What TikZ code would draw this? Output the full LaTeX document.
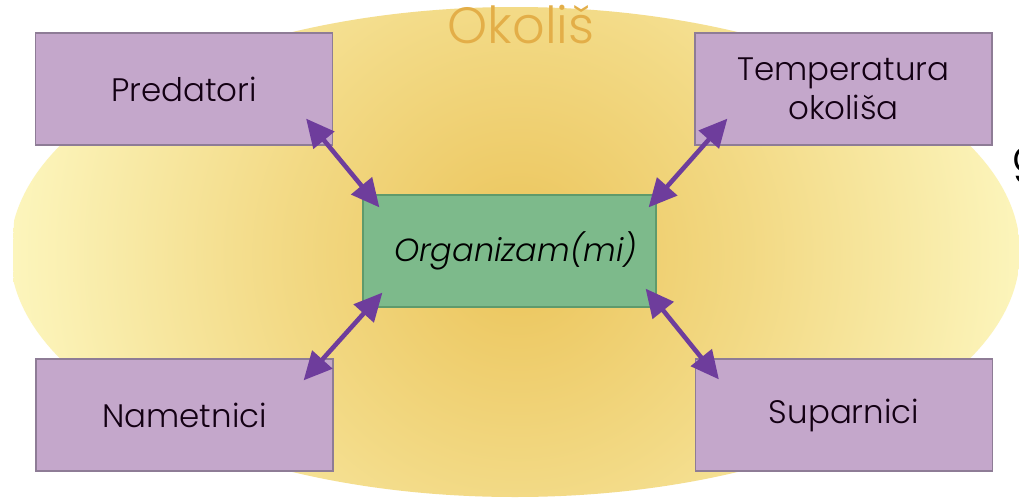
\documentclass[tikz,border=0pt]{standalone}
\usepackage{fontspec}
\setmainfont{Poppins}[UprightFont=* Light, ItalicFont=* Light Italic]
\usetikzlibrary{calc,arrows.meta}

\definecolor{zlatna}{HTML}{EBC45A}
\definecolor{blijeda}{HTML}{FCF5BC}
\definecolor{ljubicasta}{HTML}{C4A7CB}
\definecolor{okvir}{HTML}{8E7C96}
\definecolor{zelena}{HTML}{7DBA8B}
\definecolor{zokvir}{HTML}{5F9A6C}
\definecolor{strelica}{HTML}{6E3D9C}
\definecolor{naslov}{HTML}{E3AE48}

\pgfdeclareradialshading{okolisglow}{\pgfpoint{0bp}{0bp}}{%
  color(0bp)=(zlatna); color(12bp)=(zlatna!55!blijeda); color(25bp)=(blijeda); color(50bp)=(blijeda)}

\begin{document}
\begin{tikzpicture}[x=0.02cm,y=-0.02cm,
  box/.style={draw=okvir,fill=ljubicasta,line width=0.7pt,minimum width=5.94cm,minimum height=2.24cm,
    inner sep=0pt,align=center,font=\fontsize{18.5}{22.2}\selectfont,text=black!85!violet},
  arr/.style={strelica,line width=2.6pt,{Triangle[length=16pt,width=15pt]}-{Triangle[length=16pt,width=15pt]}}]
\useasboundingbox (0,0) rectangle (1019,501);
\fill[white] (0,0) rectangle (1019,501);

% okolis
\begin{scope}
\clip (515,252) ellipse [x radius=505, y radius=245];
\shade[shading=okolisglow] (518,255) circle [radius=505];
\end{scope}
\node[anchor=base,text=naslov,font=\fontsize{29}{32}\selectfont] (okolis) at (521,43) {Okoliš};

\node[box] (pred) at (184,89) {Predatori};
\node[box] (temp) at (843.5,89) {Temperatura\\okoliša};
\node[box] (namet) at (184.5,415) {Nametnici};
\node[box] (supar) at (844,415) {Suparnici};

\node[draw=zokvir,fill=zelena,line width=0.7pt,minimum width=5.86cm,minimum height=2.24cm,
  font=\fontsize{18.2}{24}\selectfont\itshape] (org) at (509.5,251) {\hspace{0.24cm}Organizam(mi)};

\draw[arr] ($(pred.south east)+(-27,-27)$) -- ($(org.north west)+(17,13)$);
\draw[arr] ($(temp.south west)+(33,-27)$) -- ($(org.north east)+(-8,13)$);
\draw[arr] ($(namet.north east)+(-30,22)$) -- ($(org.south west)+(20,-15)$);
\draw[arr] ($(supar.north west)+(24,21)$) -- ($(org.south east)+(-11,-19)$);

\node[anchor=base west,font=\fontsize{26}{30}\selectfont] (rub) at (1006,172) {g};
\end{tikzpicture}
\end{document}
